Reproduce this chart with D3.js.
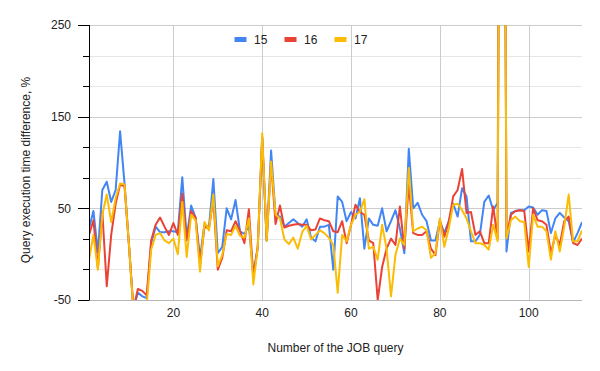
<!DOCTYPE html>
<html><head><meta charset="utf-8">
<script src="https://cdn.jsdelivr.net/npm/d3@7"></script>
<style>
html,body{margin:0;padding:0;background:#fff;}
svg text{font-family:Arial,"Liberation Sans",sans-serif;}
</style></head>
<body><svg id="c" width="600" height="371"></svg>
<script>
const seriesNames = ["15", "16", "17"];
const colors = ["#4285F4", "#EA4335", "#FBBC04"];
const yTickLabels = [-50, 50, 150, 250];
const xTickLabels = [20, 40, 60, 80, 100];

const s15 = [28,47,2,70,79,57,70,134,77,10,-60,-42,-46,-48,12,30,24,24,25,25,24,84,18,53,40,-4,33,29,82,1,8,50,38,59,25,22,31,-22,8,127,15,113,42,41,30,34,38,34,30,38,18,14,30,30,32,-17,63,57,36,46,39,61,6,39,32,31,50,25,36,48,28,1,115,50,56,43,36,15,15,36,23,36,55,41,72,63,14,14,21,57,64,48,56,1200,3,45,47,48,48,52,51,43,48,47,23,39,45,40,36,13,23,35];
const s16 = [21,37,-15,46,-35,21,55,76,74,10,-60,-38,-40,-45,15,32,40,30,21,34,21,66,15,47,40,-11,30,28,60,-17,-4,26,25,36,25,12,49,-25,8,128,15,100,33,53,29,31,32,33,32,32,26,27,39,37,36,25,24,36,12,32,54,46,43,15,12,-50,-14,6,17,10,52,6,77,23,21,21,25,6,-1,37,19,35,63,70,93,45,46,21,25,12,12,52,17,1200,19,43,47,48,47,3,50,37,36,32,1,21,10,36,41,12,10,17];
const s17 = [-6,21,-17,43,65,35,61,77,76,10,-62,-52,-55,-55,5,21,23,15,12,17,0,57,-3,43,37,-19,35,26,65,-13,-1,22,21,31,20,18,39,-33,8,132,15,101,43,39,16,11,18,6,24,31,16,21,26,23,18,10,-42,21,14,32,43,46,60,6,8,-6,32,6,-46,-1,17,10,94,25,28,30,26,-4,1,39,8,28,54,55,48,39,25,12,12,10,5,32,14,1200,17,37,41,36,35,-14,43,30,30,25,-6,25,3,30,65,14,14,26];
const seriesValues = [s15, s16, s17];

const svg = d3.select("#c");
const L = 89, R = 582, T = 25, B = 300;
const x = d3.scaleLinear().domain([1, s15.length]).range([L, R]);
const y = d3.scaleLinear().domain([-50, 250]).range([B, T]);

const minor = d3.range(-50, 250.01, 100/3);
// horizontal gridlines
svg.append("g").selectAll("line").data(minor).join("line")
  .attr("x1", L).attr("x2", R)
  .attr("y1", d => Math.round(y(d)) + 0.5).attr("y2", d => Math.round(y(d)) + 0.5)
  .attr("stroke", (d) => yTickLabels.some(t => Math.abs(t - d) < 0.01) ? "#cccccc" : "#e6e6e6")
  .attr("stroke-width", 1);
// vertical gridlines
svg.append("g").selectAll("line").data(xTickLabels).join("line")
  .attr("x1", d => Math.round(x(d)) + 0.5).attr("x2", d => Math.round(x(d)) + 0.5)
  .attr("y1", T).attr("y2", B)
  .attr("stroke", "#cccccc");
// bottom baseline
svg.append("line").attr("x1", L).attr("x2", R)
  .attr("y1", Math.round(y(-50)) + 0.5).attr("y2", Math.round(y(-50)) + 0.5)
  .attr("stroke", "#b5b5b5");

// clip
svg.append("clipPath").attr("id", "clip").append("rect")
  .attr("x", L).attr("y", T).attr("width", R - L).attr("height", B - T);

const line = d3.line().x((d, i) => x(i + 1)).y(d => y(d));
const gl = svg.append("g").attr("clip-path", "url(#clip)");
seriesValues.forEach((vals, k) => {
  gl.append("path").datum(vals).attr("d", line)
    .attr("fill", "none").attr("stroke", colors[k]).attr("stroke-width", 2)
    .attr("stroke-linejoin", "round");
});

// y axis line and ticks
svg.append("line").attr("x1", L + 0.5).attr("x2", L + 0.5).attr("y1", T).attr("y2", B + 0.5)
  .attr("stroke", "#000").attr("stroke-width", 1);
svg.append("g").selectAll("line").data(minor).join("line")
  .attr("x1", d => yTickLabels.some(t => Math.abs(t - d) < 0.01) ? L - 11 : L - 6)
  .attr("x2", L)
  .attr("y1", d => Math.round(y(d)) + 0.5).attr("y2", d => Math.round(y(d)) + 0.5)
  .attr("stroke", "#000");
svg.append("g").selectAll("text").data(yTickLabels).join("text")
  .attr("x", 71).attr("y", d => y(d) + 4.3)
  .attr("text-anchor", "end").attr("font-size", 12).attr("fill", "#222")
  .text(d => d);
// x tick labels
svg.append("g").selectAll("text").data(xTickLabels).join("text")
  .attr("x", d => x(d)).attr("y", 317)
  .attr("text-anchor", "middle").attr("font-size", 12).attr("fill", "#222")
  .text(d => d);

// titles
svg.append("text").attr("x", (L + R) / 2).attr("y", 352)
  .attr("text-anchor", "middle").attr("font-size", 12).attr("fill", "#222")
  .text("Number of the JOB query");
svg.append("text").attr("transform", "translate(30,170) rotate(-90)")
  .attr("text-anchor", "middle").attr("font-size", 12).attr("fill", "#222")
  .text("Query execution time difference, %");

// legend
const legX = [234.5, 284.5, 334.5];
seriesNames.forEach((n, k) => {
  svg.append("rect").attr("x", legX[k]).attr("y", 37).attr("width", 12).attr("height", 5)
    .attr("fill", colors[k]);
  svg.append("text").attr("x", legX[k] + 19.5).attr("y", 43.6)
    .attr("font-size", 12).attr("fill", "#222").text(n);
});
</script></body></html>
